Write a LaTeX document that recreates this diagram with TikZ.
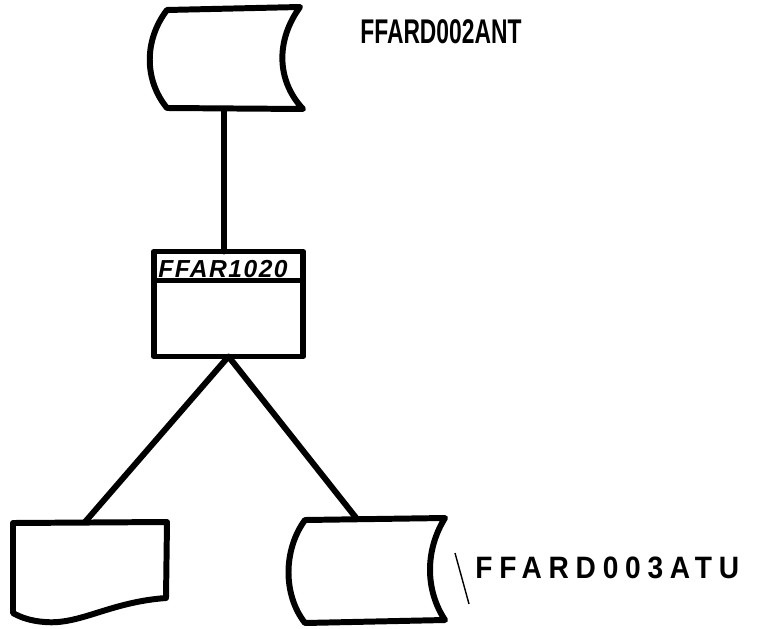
\documentclass[tikz,border=0pt]{standalone}
\usepackage{fontspec}
\setmainfont{Liberation Sans}
\begin{document}
\begin{tikzpicture}[x=0.02cm, y=-0.02cm,
    contur/.style={line width=3.4pt, line join=round, line cap=round},
    eticheta/.style={font=\fontsize{13}{15}\selectfont\bfseries, anchor=base west, inner sep=0pt}]
    % ZONA 1 (y=0..110): fisierul FFARD002ANT
    % ZONA 2 (y=250..360): programul FFAR1020
    % ZONA 3 (y=520..628): raport + fisierul FFARD003ATU

    \useasboundingbox (0,0) rectangle (759,628);

    % ===== ZONA 1: fisier de intrare =====
    \draw[contur] (167,10) -- (300,7)
      .. controls (276,40) and (276,80) .. (303,109)
      -- (167,108)
      .. controls (144,80) and (144,40) .. (167,10) -- cycle;
    \coordinate (ant) at (224,109);
    \node[eticheta] (ant-nume) at (360,44) {\scalebox{1}[1.5]{FFARD002ANT}};

    % ===== ZONA 2: programul =====
    \node[contur, draw, outer sep=0pt, minimum width=2.98cm, minimum height=2.1cm]
      (pgm) at (228.5,304) {};
    \draw[contur] ([yshift=-0.58cm]pgm.north west) -- ([yshift=-0.58cm]pgm.north east);
    \node[font=\fontsize{14}{16}\selectfont\bfseries\itshape\addfontfeatures{LetterSpace=6},
          anchor=base west, inner sep=0pt] (pgm-nume) at (158,277) {FFAR1020};
    \draw[contur] (ant) -- (ant |- pgm.north);

    % ===== ZONA 3: iesiri =====
    % raport (document)
    \draw[contur] (13,523) -- (167,522) -- (166,598)
      .. controls (110,602) and (80,625) .. (45,622)
      .. controls (30,621) and (20,617) .. (13,613) -- cycle;
    \coordinate (rap) at (85,522);

    % fisier de iesire
    \draw[contur] (305,520) -- (445,518)
      .. controls (425,550) and (425,590) .. (445,620)
      -- (305,623)
      .. controls (283,595) and (283,550) .. (305,520) -- cycle;
    \coordinate (atu) at (357,519);
    \node[eticheta, font=\fontsize{16}{18}\selectfont\bfseries\addfontfeatures{LetterSpace=24}]
      (atu-nume) at (475,578) {\scalebox{1}[1.1]{FFARD003ATU}};

    % legaturi
    \draw[contur] (rap) -- (pgm.south) -- (atu);

    % semn subtire langa eticheta
    \coordinate (semn-a) at (455,553);
    \coordinate (semn-b) at (469,604);
    \draw[line width=0.8pt] (semn-a) -- (semn-b);
  \end{tikzpicture}
\end{document}
